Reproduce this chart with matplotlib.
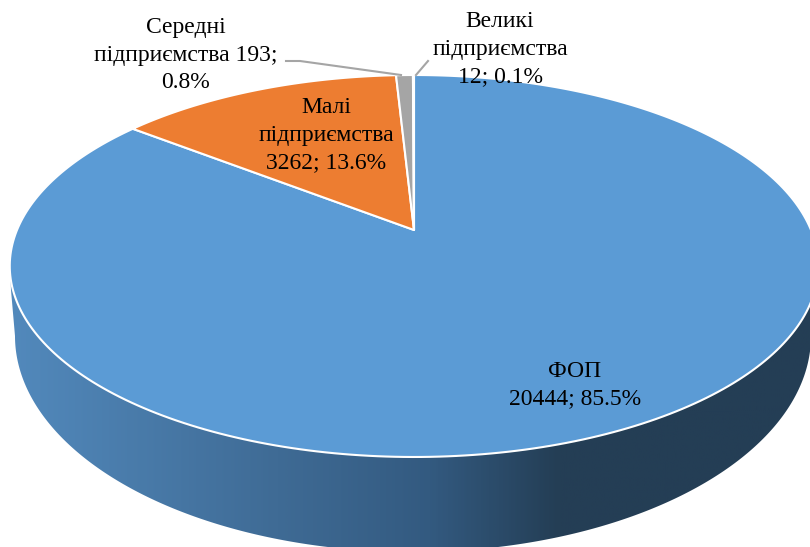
import numpy as np
import matplotlib
matplotlib.use('Agg')
import matplotlib.pyplot as plt
from matplotlib.colors import LinearSegmentedColormap
from matplotlib.patches import Polygon

names = ['ФОП', 'Малі\nпідприємства', 'Середні\nпідприємства', 'Великі\nпідприємства']
values = [20444, 3262, 193, 12]
colors = ['#5b9bd5', '#ed7d31', '#a5a5a5', '#ffc000']
seps = ['\n', '\n', ' ', '\n']

# label centres in pixels, leader lines are only for the two small slices
label_pos = [(575, 385), (326, 135), (186, 55), (500, 49)]
leaders = {2: [(286, 61), (300, 61), (401, 75)], 3: [(428, 61), (416, 75)]}

# projection of the pie disc (perspective, seen from above)
apex_x, apex_y = 414, 230
a, b, k = 397, 184.2, 0.1885


def project(theta):
    u, v = np.sin(theta), np.cos(theta)
    d = 1 + k * v
    return apex_x + a * u / d, apex_y - b * v / d


fig = plt.figure(figsize=(8.1, 5.47), dpi=100)
ax = fig.add_axes([0, 0, 1, 1])
ax.set_xlim(0, 810)
ax.set_ylim(547, 0)
ax.axis('off')

# side wall: lower rim ellipse plus the top rim
t = np.linspace(np.pi, 0, 300)
low_x = 413 + 398 * np.cos(t)
low_y = 336 + 216 * np.sin(t)
wall = np.column_stack([np.r_[10, 11, low_x, 818], np.r_[266, 290, low_y, 266]])
wall_patch = Polygon(wall, closed=True, fc='none', ec='none')
ax.add_patch(wall_patch)
shade = LinearSegmentedColormap.from_list('wall', [
    (0.0, '#5289bc'), (0.33, '#3f6b95'), (0.52, '#335a80'),
    (0.68, '#243e55'), (1.0, '#243e55')])
img = ax.imshow(np.linspace(0, 1, 400)[None, :], extent=(10, 818, 552, 266),
                cmap=shade, aspect='auto', zorder=1)
img.set_clip_path(wall_patch)
ax.set_xlim(0, 810)
ax.set_ylim(547, 0)

# top surface
total = sum(values)
start = 0.0
for i, val in enumerate(values):
    end = start + val / total * 2 * np.pi
    th = np.linspace(start, end, 300)
    x, y = project(th)
    pts = np.column_stack([np.r_[apex_x, x], np.r_[apex_y, y]])
    ax.add_patch(Polygon(pts, closed=True, fc=colors[i], ec='white', lw=1.5,
                         joinstyle='round', zorder=2))
    start = end

# labels
for i, (name, val) in enumerate(zip(names, values)):
    pct = val / total * 100
    if i == 2:
        txt = f'{name} {val};\n{pct:.1f}%'
    else:
        txt = f'{name}{seps[i]}{val}; {pct:.1f}%'
    ax.text(label_pos[i][0], label_pos[i][1], txt, ha='center', va='center',
            family='Liberation Serif', fontsize=17, color='black',
            linespacing=1.4, zorder=5)

for pts in leaders.values():
    ax.plot([p[0] for p in pts], [p[1] for p in pts], color='#a5a5a5', lw=1.5, zorder=4)

fig.savefig('out.png', dpi=100)
